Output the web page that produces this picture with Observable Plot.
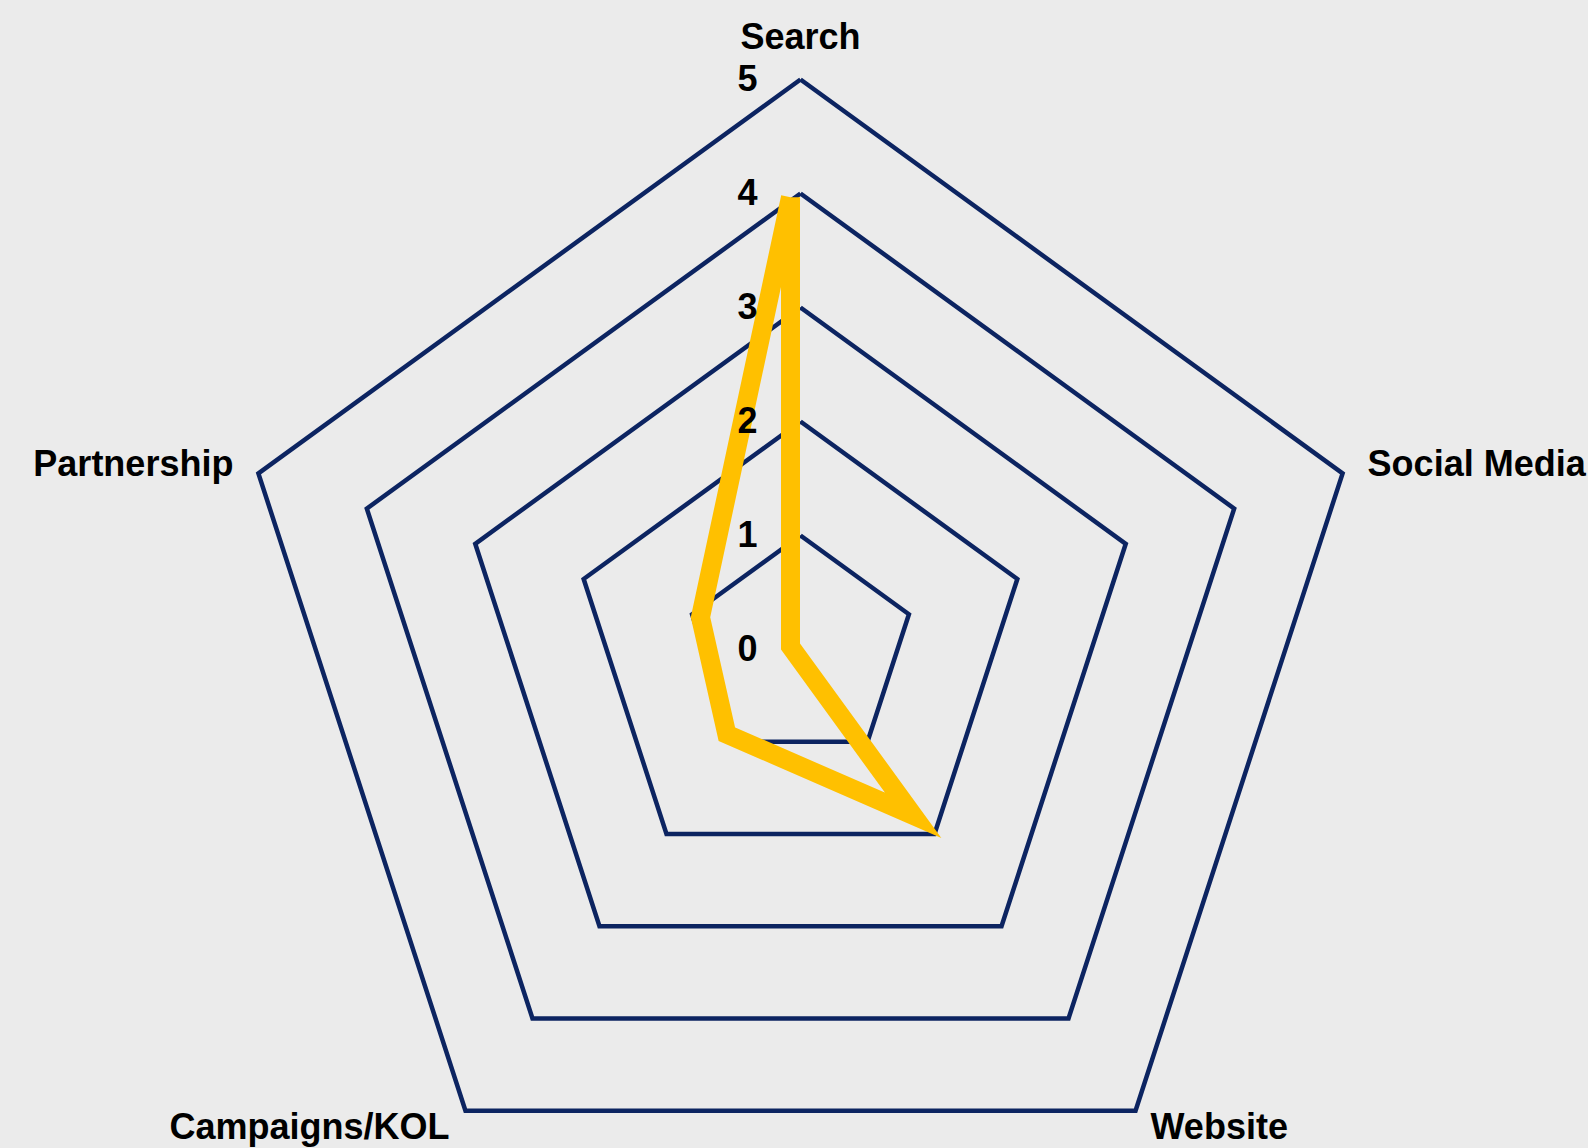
<!DOCTYPE html>
<html>
<head>
<meta charset="utf-8">
<script src="https://cdn.jsdelivr.net/npm/d3@7"></script>
<script src="https://cdn.jsdelivr.net/npm/@observablehq/plot@0.6"></script>
<style>
  html, body { margin: 0; padding: 0; background: #EBEBEB; }
  #chart svg { display: block; }
</style>
</head>
<body>
<div id="chart"></div>
<script>
// ---- data ----
const categories = ["Search", "Social Media", "Website", "Campaigns/KOL", "Partnership"];
const values = [3.94, 0, 1.83, 0.95, 0.83];
const gridLevels = [1, 2, 3, 4, 5];
const tickValues = [0, 1, 2, 3, 4, 5];
const tickLabels = ["0", "1", "2", "3", "4", "5"];

// ---- layout / style ----
const W = 1588, H = 1148;
const cx = 800, cy = 649, unit = 114;
const navy = "#0c2461";
const gold = "#FFC000";
const font = "'Liberation Sans', Arial, Helvetica, sans-serif";
const labelStyle = {
  "Search":        {textAnchor: "middle", dx: 0,   dy: -42},
  "Social Media":  {textAnchor: "start",  dx: 25,  dy: -9},
  "Website":       {textAnchor: "start",  dx: 15,  dy: 17},
  "Campaigns/KOL": {textAnchor: "end",    dx: -16, dy: 17},
  "Partnership":   {textAnchor: "end",    dx: -25, dy: -9}
};

const n = categories.length;
const ang = i => (i % n) * 2 * Math.PI / n;
const px = (i, v) => v * Math.sin(ang(i));
const py = (i, v) => v * Math.cos(ang(i));

// grid pentagons (closed)
const grid = [];
for (const L of gridLevels) {
  for (let i = 0; i <= n; i++) grid.push({level: L, x: px(i, L), y: py(i, L)});
}
// data polygon (closed)
const series = [];
for (let i = 0; i <= n; i++) {
  const v = values[i % n];
  series.push({cat: categories[i % n], x: px(i, v), y: py(i, v)});
}
const outer = Math.max(...gridLevels);
const labelPts = categories.map((c, i) => ({cat: c, x: px(i, outer), y: py(i, outer)}));

const marks = [
  Plot.line(grid, {x: "x", y: "y", z: "level", stroke: navy, strokeWidth: 4.5,
    strokeLinejoin: "miter", strokeMiterlimit: 4, strokeLinecap: "butt"}),
  Plot.line(series, {x: "x", y: "y", stroke: gold, strokeWidth: 19, dx: -10, dy: -3,
    strokeLinejoin: "miter", strokeMiterlimit: 4.2, strokeLinecap: "butt"}),
  Plot.text(tickValues, {x: () => 0, y: d => d, text: (d, i) => tickLabels[i],
    textAnchor: "end", dx: -43, fontSize: 36, fontWeight: "bold", fill: "#000"})
];
for (const p of labelPts) {
  const s = labelStyle[p.cat];
  marks.push(Plot.text([p], {x: "x", y: "y", text: "cat", textAnchor: s.textAnchor,
    dx: s.dx, dy: s.dy, fontSize: 36, fontWeight: "bold", fill: "#000"}));
}

const chart = Plot.plot({
  width: W, height: H, margin: 0,
  x: {domain: [-cx / unit, (W - cx) / unit], range: [0, W], axis: null},
  y: {domain: [-(H - cy) / unit, cy / unit], range: [H, 0], axis: null},
  style: {background: "#EBEBEB", fontFamily: font, overflow: "hidden"},
  marks
});
document.getElementById("chart").appendChild(chart);
</script>
</body>
</html>
